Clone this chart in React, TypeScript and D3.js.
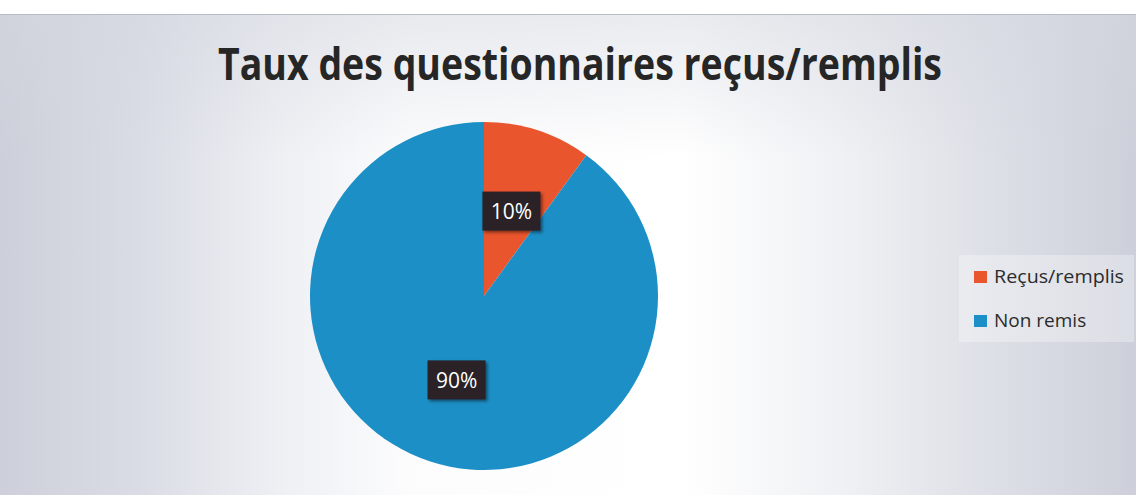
import React from "react";
import * as d3 from "d3";

const categories = ["Reçus/remplis", "Non remis"];
const values = [10, 90];
const colors = ["#e9552d", "#1c8fc6"];
const title = "Taux des questionnaires reçus/remplis";

const W = 1136;
const H = 495;

export default function App() {
  const cx = 484;
  const cy = 296;
  const r = 174;
  const pie = d3.pie<number>().sort(null).value((d) => d)(values);
  const arc = d3.arc<d3.PieArcDatum<number>>().innerRadius(0).outerRadius(r);
  const labelArc = d3.arc<d3.PieArcDatum<number>>().innerRadius(0).outerRadius(r * 1.02);
  const total = d3.sum(values);

  return (
    <svg width={W} height={H} style={{ position: "absolute", left: 0, top: 0, display: "block" }}>
      <defs>
        <linearGradient id="bgH" x1="0" x2="1" y1="0" y2="0">
          <stop offset="0" stopColor="#cdd0da" />
          <stop offset="0.12" stopColor="#d9dce4" />
          <stop offset="0.25" stopColor="#eef0f4" />
          <stop offset="0.36" stopColor="#fcfcfd" />
          <stop offset="0.6" stopColor="#ffffff" />
          <stop offset="0.74" stopColor="#f0f1f4" />
          <stop offset="0.86" stopColor="#dfe1e8" />
          <stop offset="1" stopColor="#cdd0da" />
        </linearGradient>
        <linearGradient id="bgV" x1="0" x2="0" y1="0" y2="1">
          <stop offset="0" stopColor="#d4d7df" stopOpacity={0.5} />
          <stop offset="0.3" stopColor="#d4d7df" stopOpacity={0} />
          <stop offset="1" stopColor="#d4d7df" stopOpacity={0} />
        </linearGradient>
        <filter id="sh" x="-20%" y="-20%" width="150%" height="160%">
          <feDropShadow dx="2" dy="2" stdDeviation="1.5" floodColor="#000" floodOpacity="0.45" />
        </filter>
      </defs>
      <rect x={0} y={0} width={W} height={H} fill="#ffffff" />
      <rect x={0} y={14} width={W} height={H - 14} fill="url(#bgH)" />
      <rect x={0} y={14} width={W} height={H - 14} fill="url(#bgV)" />
      <line x1={0} x2={W} y1={14.5} y2={14.5} stroke="#b9bcc4" strokeWidth={1} />
      <text
        x={580}
        y={80}
        textAnchor="middle"
        fontFamily="'Open Sans', sans-serif"
        fontWeight={700}
        fontSize={44}
        fill="#262626"
        textLength={724}
        lengthAdjust="spacingAndGlyphs"
      >
        {title}
      </text>
      <g transform={`translate(${cx},${cy})`}>
        {pie.map((p, i) => (
          <path key={i} d={arc(p) || ""} fill={colors[i]} />
        ))}
        {pie.map((p, i) => {
          const [lx, ly] = labelArc.centroid(p);
          const label = `${Math.round((p.data / total) * 100)}%`;
          return (
            <g key={"l" + i} transform={`translate(${lx},${ly})`}>
              <rect x={-29} y={-20} width={58} height={39} fill="#2a2026" filter="url(#sh)" />
              <text
                x={0}
                y={7.5}
                textAnchor="middle"
                fontFamily="'Open Sans', sans-serif"
                fontWeight={500}
                fontSize={21}
                fill="#ffffff"
              >
                {label}
              </text>
            </g>
          );
        })}
      </g>
      <rect x={959} y={255} width={175} height={87} fill="#ffffff" opacity={0.3} />
      {categories.map((c, i) => (
        <g key={c} transform={`translate(974,${271 + i * 44})`}>
          <rect x={0} y={0} width={13} height={12} fill={colors[i]} />
          <text x={20} y={12} fontFamily="'Open Sans', sans-serif" fontSize={19} fill="#2b2b2b"
            textLength={i === 0 ? 130 : undefined} lengthAdjust="spacingAndGlyphs">
            {c}
          </text>
        </g>
      ))}
    </svg>
  );
}
